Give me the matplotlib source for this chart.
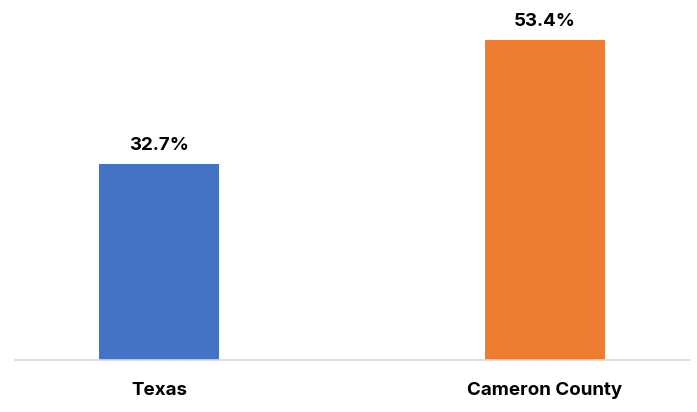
import matplotlib.pyplot as plt

# Values
regions = ["Texas", "Cameron County"]
shares = [32.7, 53.4]
bar_colors = ["#4472C4", "#ED7D31"]

plt.rcParams['font.family'] = ['Inter', 'DejaVu Sans']

fig = plt.figure(figsize=(6.97, 4.12), dpi=100)
# axes spans x 15..690 px, y 0..360 px (from top)
ax = fig.add_axes([15 / 697, (412 - 360) / 412, 675 / 697, 360 / 412])

positions = list(range(len(regions)))
bars = ax.bar(positions, shares, width=0.311, color=bar_colors)

for rect, val in zip(bars, shares):
    ax.annotate(f"{val}%", (rect.get_x() + rect.get_width() / 2, rect.get_height()),
                xytext=(0, 7), textcoords="offset points",
                ha="center", va="bottom", fontsize=13.5, fontweight="bold")

ax.set_xlim(-0.373, 1.376)
ax.set_ylim(0, 60)
ax.set_xticks(positions)
ax.set_xticklabels(regions, fontsize=13.5, fontweight="bold")
ax.tick_params(axis="x", length=0, pad=16)
ax.set_yticks([])

for side in ["top", "right", "left"]:
    ax.spines[side].set_visible(False)
ax.spines["bottom"].set_color("#D9D9D9")
ax.spines["bottom"].set_linewidth(1.2)

fig.savefig("out.png", dpi=100)
